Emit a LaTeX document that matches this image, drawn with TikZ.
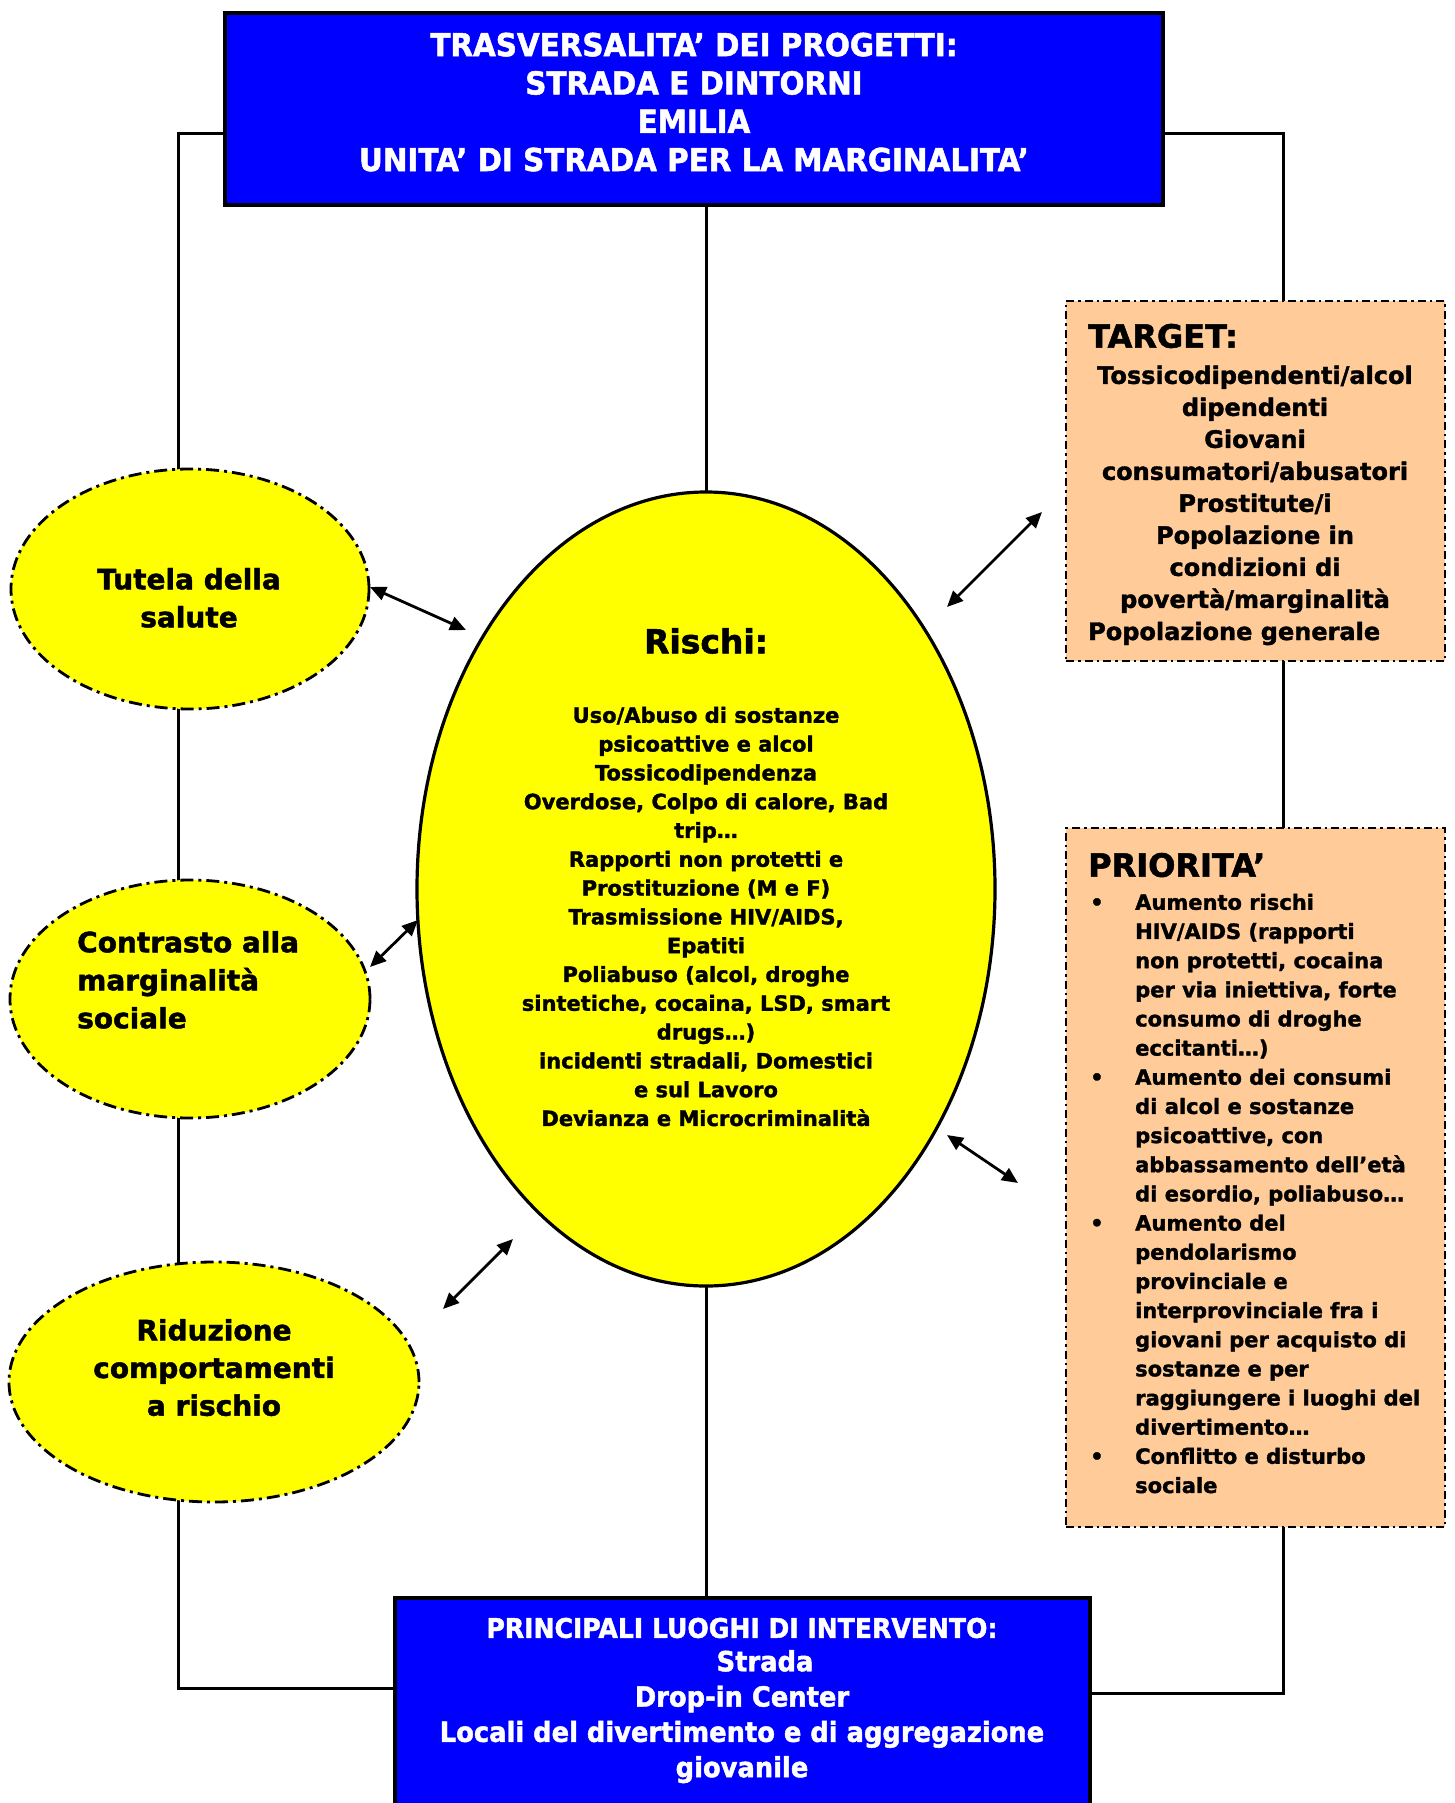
\documentclass[tikz,border=0pt]{standalone}
\usepackage{fontspec}
\setmainfont{DejaVu Sans}[BoldFeatures={FakeBold=1.6}]
\newfontfamily\condfont{DejaVu Sans}[FakeStretch=0.93, BoldFeatures={FakeBold=1.6}]
\usetikzlibrary{shapes.geometric,arrows.meta}
\definecolor{boxblue}{RGB}{0,0,255}
\definecolor{ellyellow}{RGB}{255,255,0}
\definecolor{peach}{RGB}{255,204,153}
\pgfdeclarelayer{lines}
\pgfsetlayers{lines,main}
\tikzset{
  bluebox/.style={rectangle, draw=black, line width=4pt, fill=boxblue, inner sep=0pt},
  ell/.style={ellipse, draw=black, fill=ellyellow, line width=2.8pt, dash pattern=on 13pt off 5pt on 3pt off 5pt, inner sep=0pt},
  rischiell/.style={ellipse, draw=black, fill=ellyellow, line width=3.2pt, inner sep=0pt},
  peachbox/.style={rectangle, draw=black, fill=peach, line width=2.8pt, dash pattern=on 8pt off 4pt on 2.5pt off 4pt, inner sep=0pt},
  conn/.style={line width=3pt, draw=black},
  biarrow/.style={line width=2.8pt, {Triangle[length=16pt,width=14pt]}-{Triangle[length=16pt,width=14pt]}},
  txt/.style={inner sep=0pt, text=black},
}
\begin{document}
\begin{tikzpicture}[x=1pt,y=-1pt]
\useasboundingbox (0,0) rectangle (1454,1803);

% main boxes
\node[bluebox, minimum width=938pt, minimum height=192pt] (tb) at (694,109) {};
\node[bluebox, minimum width=695pt, minimum height=210pt] (bb) at (742.5,1703) {};
\node[rischiell, minimum width=578pt, minimum height=794pt] (ri) at (706,889) {};
\node[ell, minimum width=358pt, minimum height=240pt] (e1) at (190,589) {};
\node[ell, minimum width=360pt, minimum height=238pt] (e2) at (190,999) {};
\node[ell, minimum width=410pt, minimum height=240pt] (e3) at (214,1382) {};
\node[peachbox, minimum width=379pt, minimum height=360pt] (tg) at (1255.5,481) {};
\node[peachbox, minimum width=379pt, minimum height=699pt] (pr) at (1255.5,1177.5) {};

% texts
\node[txt, text=white, anchor=north, align=center, font=\condfont\bfseries\fontsize{31.6}{38.3}\selectfont] (tbt) at (694,32.5)
 {TRASVERSALITA’ DEI PROGETTI:\\STRADA E DINTORNI\\EMILIA\\UNITA’ DI STRADA PER LA MARGINALITA’};
\node[txt, text=white, anchor=center, font=\condfont\bfseries\fontsize{27}{32}\selectfont] (bbh) at (742,1628)
 {PRINCIPALI LUOGHI DI INTERVENTO:};
\node[txt, text=white, anchor=north, align=center, font=\condfont\bfseries\fontsize{27.7}{35.3}\selectfont] (bbt) at (742,1650)
 {\hspace*{46pt}Strada\\Drop-in Center\\Locali del divertimento e di aggregazione\\giovanile};

\node[txt, anchor=center, font=\bfseries\fontsize{33}{40}\selectfont] (rit) at (706,641) {Rischi:};
\node[txt, anchor=north, align=center, font=\bfseries\fontsize{21}{28.8}\selectfont] (rib) at (706,706.6)
 {Uso/Abuso di sostanze\\psicoattive e alcol\\Tossicodipendenza\\Overdose, Colpo di calore, Bad\\trip…\\Rapporti non protetti e\\Prostituzione (M e F)\\Trasmissione HIV/AIDS,\\Epatiti\\Poliabuso (alcol, droghe\\sintetiche, cocaina, LSD, smart\\drugs…)\\incidenti stradali, Domestici\\e sul Lavoro\\Devianza e Microcriminalità};

\node[txt, anchor=north, align=center, font=\bfseries\fontsize{28}{38}\selectfont] (t1) at (189,567.8) {Tutela della\\salute};
\node[txt, anchor=north west, align=left, font=\bfseries\fontsize{28}{38}\selectfont] (t2) at (77,930.8) {Contrasto alla\\marginalità\\sociale};
\node[txt, anchor=north, align=center, font=\bfseries\fontsize{28}{37.7}\selectfont] (t3) at (214,1318.8) {Riduzione\\comportamenti\\a rischio};

\node[txt, anchor=west, font=\bfseries\fontsize{32}{38}\selectfont] (tgh) at (1088,336) {TARGET:};
\node[txt, anchor=north, align=center, font=\bfseries\fontsize{24}{32}\selectfont] (tgt) at (1255,365.4)
 {Tossicodipendenti/alcol\\dipendenti\\Giovani\\consumatori/abusatori\\Prostitute/i\\Popolazione in\\condizioni di\\povertà/marginalità};
\node[txt, anchor=base west, font=\bfseries\fontsize{24}{32}\selectfont] (tgl) at (1088,640) {Popolazione generale};

\node[txt, anchor=base west, font=\bfseries\fontsize{32}{38}\selectfont] (prh) at (1088,876.7) {PRIORITA’};
\node[txt, anchor=north west, align=left, font=\bfseries\fontsize{21}{29.16}\selectfont] (prt) at (1135,893.6)
 {Aumento rischi\\HIV/AIDS (rapporti\\non protetti, cocaina\\per via iniettiva, forte\\consumo di droghe\\eccitanti…)\\Aumento dei consumi\\di alcol e sostanze\\psicoattive, con\\abbassamento dell’età\\di esordio, poliabuso…\\Aumento del\\pendolarismo\\provinciale e\\interprovinciale fra i\\giovani per acquisto di\\sostanze e per\\raggiungere i luoghi del\\divertimento…\\Conflitto e disturbo\\sociale};
\foreach \k/\n in {0/pb1,6/pb2,11/pb3,19/pb4}
  \node[txt, anchor=base west, font=\bfseries\fontsize{21}{29.16}\selectfont] (\n) at (1090,{909.7+\k*29.16}) {•};

% connectors (behind)
\coordinate (lx) at (178,0);
\coordinate (rx) at (1283,0);
\coordinate (tbL) at ([yshift=73pt]tb.south west);
\coordinate (tbR) at ([yshift=73pt]tb.south east);
\coordinate (bbL) at ([yshift=15pt]bb.west);
\coordinate (bbR) at ([yshift=10pt]bb.east);
\begin{pgfonlayer}{lines}
\draw[conn] (tbL) -| (lx |- bbL) -- (bbL);
\draw[conn] (tbR) -| (rx |- bbR) -- (bbR);
\draw[conn] (tb.south -| ri.center) -- (bb.north -| ri.center);
\end{pgfonlayer}

% arrows
\coordinate (a1s) at (370,587); \coordinate (a1e) at (466,630);
\coordinate (a2s) at (370,967); \coordinate (a2e) at (418,920);
\coordinate (a3s) at (443,1309); \coordinate (a3e) at (513,1239);
\coordinate (a4s) at (947,607); \coordinate (a4e) at (1042,512);
\coordinate (a5s) at (947,1135); \coordinate (a5e) at (1018,1183);
\draw[biarrow] (a1s) -- (a1e);
\draw[biarrow] (a2s) -- (a2e);
\draw[biarrow] (a3s) -- (a3e);
\draw[biarrow] (a4s) -- (a4e);
\draw[biarrow] (a5s) -- (a5e);
\end{tikzpicture}
\end{document}
